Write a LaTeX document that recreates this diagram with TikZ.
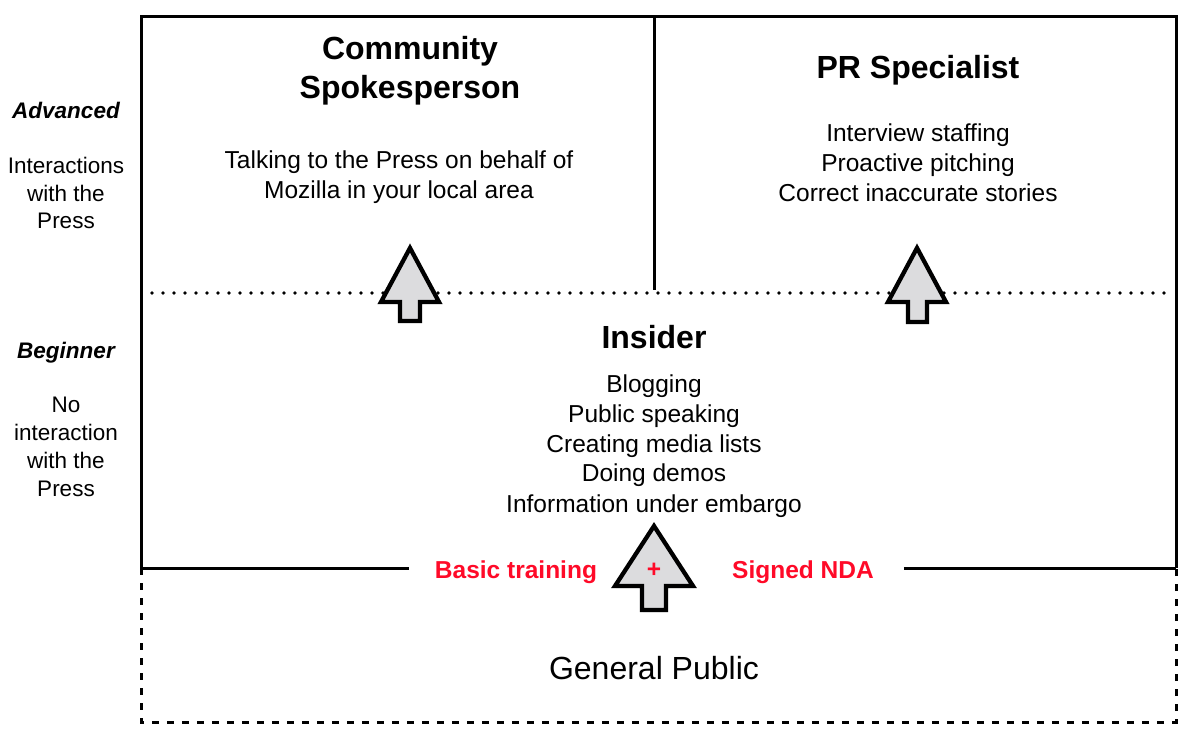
\documentclass[tikz,border=0pt]{standalone}
\usepackage{fontspec}
\setmainfont{Liberation Sans}
\usetikzlibrary{shadows}
\definecolor{nred}{RGB}{255,10,40}
\definecolor{agray}{RGB}{220,220,222}
\begin{document}
\begin{tikzpicture}[x=1pt,y=-1pt,
 boxline/.style={line width=3pt},
 dotline/.style={line width=3.6pt, dash pattern=on 0pt off 11pt, line cap=round},
 dashline/.style={line width=3pt, dash pattern=on 7pt off 8pt},
 bigarrow/.style={line width=4.3pt, fill=agray, draw=black, line join=miter, drop shadow={opacity=0.35, shadow xshift=1pt, shadow yshift=-2pt}},
 title/.style={font=\fontsize{32}{38}\selectfont\bfseries, anchor=base},
 body/.style={font=\fontsize{24.5}{30}\selectfont, anchor=base},
 side/.style={font=\fontsize{22.5}{27}\selectfont, anchor=base},
 sidehead/.style={font=\fontsize{22.5}{27}\selectfont\bfseries\itshape, anchor=base},
 redlab/.style={font=\fontsize{24.5}{30}\selectfont\bfseries, text=nred, anchor=base, inner ysep=0pt},
 gp/.style={font=\fontsize{32}{38}\selectfont, anchor=base}]
\useasboundingbox (0,0) rectangle (1203,743);

% coordinates of the frame
\coordinate (tl) at (141,17);
\coordinate (tr) at (1176,17);
\coordinate (ml) at (141,568);
\coordinate (mr) at (1176,568);
\coordinate (bl) at (141,722);
\coordinate (br) at (1176,722);
\coordinate (dtop) at (654,17);
\coordinate (dbot) at (654,290);
\coordinate (dl) at (152,293);
\coordinate (dr) at (1172,293);

% frame
\draw[boxline] (ml) -- (tl) -- (tr) -- (mr);
\draw[boxline] (dtop) -- (dbot);
\draw[dashline] (ml) -- (bl) -- (br) -- (mr);
\draw[dotline] (dl) -- (dr);

% labels on the bottom line
\node[redlab, inner xsep=26pt] (basic) at (516,578) {Basic training};
\node[redlab, inner xsep=30pt] (nda) at (803,578) {Signed NDA};
\draw[boxline] (ml) -- (basic.west |- ml);
\draw[boxline] (nda.east |- mr) -- (mr);

% arrows
\draw[bigarrow] (410,248) -- (439,302) -- (420,302) -- (420,321) -- (400,321) -- (400,302) -- (381,302) -- cycle;
\draw[bigarrow] (917,248) -- (946,302) -- (927,302) -- (927,322) -- (908,322) -- (908,302) -- (888,302) -- cycle;
\draw[bigarrow] (654,526) -- (693,586) -- (666,586) -- (666,610) -- (642,610) -- (642,586) -- (615,586) -- cycle;
\node[font=\fontsize{24.5}{30}\selectfont\bfseries, text=nred] (plus) at (654,570) {+};

% top-left cell
\node[title] (cs1) at (410,59.5) {Community};
\node[title] (cs2) at (410,98.5) {Spokesperson};
\node[body] (cst1) at (399,169) {Talking to the Press on behalf of};
\node[body] (cst2) at (399,199) {Mozilla in your local area};

% top-right cell
\node[title] (pr) at (918,78.5) {PR Specialist};
\foreach \t [count=\i] in {Interview staffing, Proactive pitching, Correct inaccurate stories}
  \node[body] (prt\i) at (918,142+30*\i-30) {\t};

% insider
\node[title] (ins) at (654,348.5) {Insider};
\foreach \t [count=\i] in {Blogging, Public speaking, Creating media lists, Doing demos, Information under embargo}
  \node[body] (inst\i) at (654,392+30*\i-30) {\t};

% general public
\node[gp] (gpub) at (654,679.5) {General Public};

% left side
\node[sidehead] (adv) at (66,119) {Advanced};
\foreach \t/\y [count=\i] in {Interactions/174, with the/201.5, Press/229}
  \node[side] (advt\i) at (66,\y) {\t};
\node[sidehead] (beg) at (66,359) {Beginner};
\foreach \t/\y [count=\i] in {No/413, interaction/441, with the/468.5, Press/496}
  \node[side] (begt\i) at (66,\y) {\t};
\end{tikzpicture}
\end{document}
